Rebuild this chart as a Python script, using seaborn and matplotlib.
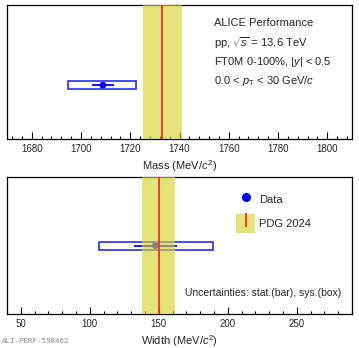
import numpy as np
import seaborn as sns
import matplotlib
matplotlib.use("Agg")
from matplotlib import pyplot as plt
from matplotlib.lines import Line2D
from matplotlib.patches import Patch
from matplotlib.ticker import MultipleLocator

# measured values (MeV/c^2)
mass_val = [1708.9]
mass_stat = [4.5]
mass_sys_lo = [1694.9]
mass_sys_hi = [1722.5]
width_val = [147.5]
width_stat = [15.6]
width_sys_lo = [106.6]
width_sys_hi = [189.0]

# PDG 2024 reference
pdg_mass = 1733.0
pdg_mass_band = (1725.0, 1741.0)
pdg_width = 150.0
pdg_width_band = (138.0, 162.0)

y_mass = [0.4]
y_width = [0.5]

BLUE = "#0000ff"
BOX = "#3838ff"
BAND = "#d4d42a"
RED = "#f03020"
FS = 8


def panel(ax, val, stat, lo, hi, ypos, band, ref, xlim, major, minor, xlabel):
    sns.scatterplot(x=val, y=ypos, ax=ax, color=BLUE, s=24, edgecolor="none", zorder=3)
    ax.errorbar(val, ypos, xerr=stat, fmt="none", ecolor=BLUE, elinewidth=1.3, capsize=0, zorder=3)
    ax.barh(ypos, width=np.array(hi) - np.array(lo), left=lo, height=0.06,
            fill=False, edgecolor=BOX, linewidth=1.3, zorder=3)
    ax.axvspan(band[0], band[1], color=BAND, alpha=0.62, lw=0, zorder=4)
    ax.axvline(ref, color=RED, lw=1.3, zorder=5)
    ax.set_xlim(*xlim)
    ax.set_ylim(0, 1)
    ax.xaxis.set_major_locator(MultipleLocator(major))
    ax.xaxis.set_minor_locator(MultipleLocator(minor))
    ax.tick_params(axis="x", which="both", bottom=True, top=False, direction="in",
                   width=0.8, color="black")
    ax.tick_params(axis="x", which="major", length=5, labelsize=7, pad=3.5)
    ax.tick_params(axis="x", which="minor", length=2.5)
    ax.tick_params(axis="y", left=False, labelleft=False)
    ax.set_yticks([])
    ax.set_ylabel("")
    ax.set_xlabel(xlabel, fontsize=FS, labelpad=3)
    for s in ax.spines.values():
        s.set_visible(True)
        s.set_linewidth(0.9)
        s.set_color("black")


def main():
    sns.set_theme(style="white")
    plt.rcParams["font.family"] = ["Liberation Sans", "DejaVu Sans"]
    plt.rcParams["mathtext.fontset"] = "custom"
    plt.rcParams["mathtext.rm"] = "Liberation Sans"
    plt.rcParams["mathtext.it"] = "Liberation Sans:italic"

    fig = plt.figure(figsize=(3.59, 3.48), dpi=100)
    ax1 = fig.add_axes([0.0195, 0.6006, 0.961, 0.386])
    ax2 = fig.add_axes([0.0195, 0.0977, 0.961, 0.3928])

    panel(ax1, mass_val, mass_stat, mass_sys_lo, mass_sys_hi, y_mass, pdg_mass_band,
          pdg_mass, (1670, 1810), 20, 4, "Mass (MeV/$c^2$)")
    panel(ax2, width_val, width_stat, width_sys_lo, width_sys_hi, y_width, pdg_width_band,
          pdg_width, (40, 290), 50, 10, "Width (MeV/$c^2$)")

    info = ["ALICE Performance",
            r"pp, $\sqrt{s}$ = 13.6 TeV",
            r"FT0M 0-100%, |$y$| < 0.5",
            r"0.0 < $p_{\mathrm{T}}$ < 30 GeV/$c$"]
    for i, t in enumerate(info):
        ax1.text(0.600, 0.86 - i * 0.143, t, transform=ax1.transAxes, fontsize=FS, va="center")

    handles = [Line2D([], [], marker="o", color=BLUE, ls="none", markersize=5.5),
               (Patch(facecolor=BAND, alpha=0.62, edgecolor="none"),
                Line2D([], [], marker="|", color=RED, ls="none", markersize=10, mew=1.3))]
    ax2.legend(handles, ["Data", "PDG 2024"], loc="upper left", bbox_to_anchor=(0.664, 0.905),
               frameon=False, fontsize=FS, borderaxespad=0, borderpad=0,
               handlelength=1.7, handleheight=2.2, handletextpad=0.35, labelspacing=0.45)
    ax2.text(0.97, 0.155, "Uncertainties: stat.(bar), sys.(box)", transform=ax2.transAxes,
             fontsize=7.5, ha="right", va="center")

    fig.text(0.006, 0.012, "ALI-PERF-598462", fontsize=5.4, color="#8a8a8a",
             family="DejaVu Sans Mono", va="bottom")

    fig.savefig("out.png", dpi=100)


if __name__ == "__main__":
    main()
